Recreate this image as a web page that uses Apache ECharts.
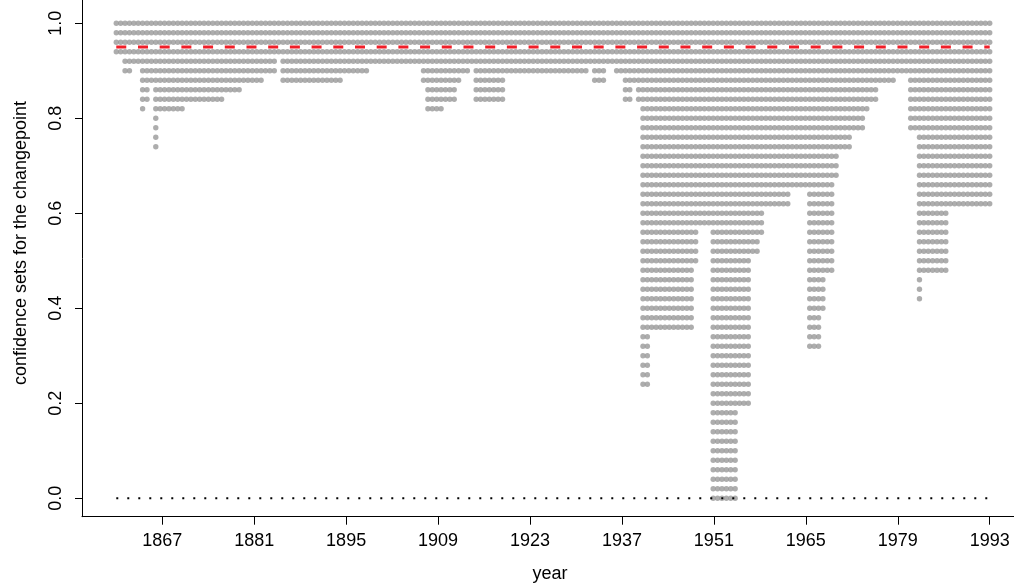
<!DOCTYPE html>
<html><head><meta charset="utf-8">
<script src="https://cdn.jsdelivr.net/npm/echarts@6/dist/echarts.min.js"></script>
<style>html,body{margin:0;padding:0;background:#fff}#c{width:1014px;height:588px}</style>
</head><body><div id="c"></div>
<script>
// time span covered by the observations and number of observations
const firstYear = 1860, lastYear = 1993, nObs = 200;
// confidence levels (rows)
const levels = [0.00,0.02,0.04,0.06,0.08,0.10,0.12,0.14,0.16,0.18,0.20,0.22,0.24,0.26,0.28,0.30,
  0.32,0.34,0.36,0.38,0.40,0.42,0.44,0.46,0.48,0.50,0.52,0.54,0.56,0.58,0.60,0.62,0.64,0.66,
  0.68,0.70,0.72,0.74,0.76,0.78,0.80,0.82,0.84,0.86,0.88,0.90,0.92,0.94,0.96,0.98,1.00];
// smallest confidence level whose set contains each observation
const minLevel = [
  0.94,0.94,0.90,0.90,0.92,0.92,0.82,0.84,0.88,0.74,
  0.82,0.82,0.82,0.82,0.82,0.82,0.84,0.84,0.84,0.84,
  0.84,0.84,0.84,0.84,0.84,0.86,0.86,0.86,0.86,0.88,
  0.88,0.88,0.88,0.88,0.90,0.90,0.90,0.94,0.88,0.88,
  0.88,0.88,0.88,0.88,0.88,0.88,0.88,0.88,0.88,0.88,
  0.88,0.88,0.90,0.90,0.90,0.90,0.90,0.90,0.92,0.92,
  0.92,0.92,0.92,0.92,0.92,0.92,0.92,0.92,0.92,0.92,
  0.88,0.82,0.82,0.82,0.82,0.84,0.84,0.84,0.88,0.90,
  0.90,0.92,0.84,0.84,0.84,0.84,0.84,0.84,0.84,0.90,
  0.90,0.90,0.90,0.90,0.90,0.90,0.90,0.90,0.90,0.90,
  0.90,0.90,0.90,0.90,0.90,0.90,0.90,0.90,0.92,0.88,
  0.88,0.88,0.92,0.92,0.90,0.90,0.84,0.84,0.88,0.84,
  0.24,0.24,0.36,0.36,0.36,0.36,0.36,0.36,0.36,0.36,
  0.36,0.36,0.50,0.58,0.58,0.58,0.00,0.00,0.00,0.00,
  0.00,0.00,0.20,0.20,0.20,0.52,0.52,0.56,0.62,0.62,
  0.62,0.62,0.62,0.62,0.66,0.66,0.66,0.66,0.32,0.32,
  0.32,0.40,0.48,0.48,0.68,0.74,0.74,0.74,0.78,0.78,
  0.78,0.82,0.84,0.84,0.88,0.88,0.88,0.88,0.90,0.90,
  0.90,0.78,0.78,0.42,0.48,0.48,0.48,0.48,0.48,0.48,
  0.62,0.62,0.62,0.62,0.62,0.62,0.62,0.62,0.62,0.62
];
const xTicks = [1867,1881,1895,1909,1923,1937,1951,1965,1979,1993];
const yTicks = [0.0,0.2,0.4,0.6,0.8,1.0];
const refLevel = 0.95;   // red dashed line
const zeroLevel = 0.0;   // dotted baseline

const obsTime = minLevel.map((_, k) => firstYear + k * (lastYear - firstYear) / (nObs - 1));
const dots = [];
minLevel.forEach((m, k) => {
  levels.forEach(l => { if (l >= m - 1e-9) dots.push([obsTime[k], l]); });
});

const FONT = '"Liberation Sans", Arial, Helvetica, sans-serif';
const chart = echarts.init(document.getElementById('c'), null, {renderer: 'canvas'});
chart.setOption({
  animation: false,
  backgroundColor: '#fff',
  grid: {left: 82, right: 0, top: 0, bottom: 71.3, containLabel: false},
  xAxis: {
    type: 'value', min: 1854.78, max: 1996.70,
    splitLine: {show: false},
    axisLine: {show: true, onZero: false, lineStyle: {color: '#000', width: 1}},
    axisTick: {show: true, customValues: xTicks, length: 8, lineStyle: {color: '#000', width: 1}},
    axisLabel: {customValues: xTicks, fontSize: 18, color: '#000', fontFamily: FONT, margin: 15,
      formatter: v => String(Math.round(v))}
  },
  yAxis: {
    type: 'value', min: -0.0387, max: 1.04905,
    splitLine: {show: false},
    axisLine: {show: true, onZero: false, lineStyle: {color: '#000', width: 1}},
    axisTick: {show: true, customValues: yTicks, length: 7, lineStyle: {color: '#000', width: 1}},
    axisLabel: {customValues: yTicks, fontSize: 18, color: '#000', fontFamily: FONT, rotate: 90,
      margin: 17, formatter: v => v.toFixed(1)}
  },
  graphic: [
    {type: 'text', x: 550, y: 574, style: {text: 'year', font: '18px ' + FONT, fill: '#000',
      textAlign: 'center', textVerticalAlign: 'middle'}},
    {type: 'text', x: 21, y: 243, rotation: Math.PI / 2, style: {text: 'confidence sets for the changepoint',
      font: '18px ' + FONT, fill: '#000', textAlign: 'center', textVerticalAlign: 'middle'}}
  ],
  series: [
    {type: 'scatter', data: dots, symbol: 'circle', symbolSize: 5.4, itemStyle: {color: '#999999'},
      silent: true, z: 2},
    {type: 'line', data: [[firstYear, refLevel], [lastYear, refLevel]], symbol: 'none', silent: true,
      lineStyle: {color: '#f01e28', width: 3, type: [10, 11.7]}, z: 3},
    {type: 'line', data: [[firstYear, zeroLevel], [lastYear, zeroLevel]], symbol: 'none', silent: true,
      lineStyle: {color: '#000', width: 2, type: [2, 9]}, z: 4}
  ]
});
</script></body></html>
